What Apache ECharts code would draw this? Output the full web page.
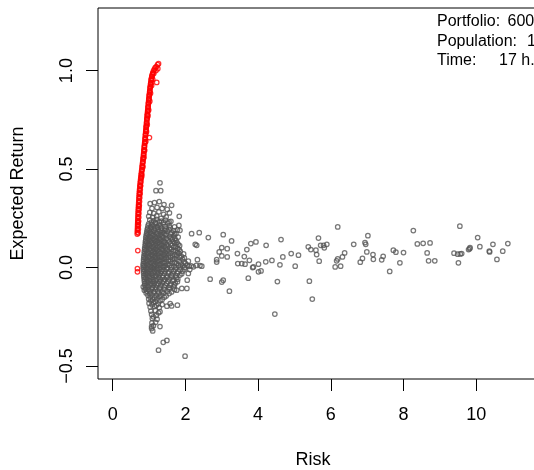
<!DOCTYPE html>
<html>
<head>
<meta charset="utf-8">
<title>Risk / Expected Return</title>
<script src="https://cdn.jsdelivr.net/npm/echarts@6/dist/echarts.min.js"></script>
<style>html,body{margin:0;padding:0;background:#fff;}</style>
</head>
<body>
<div id="chart" style="width:534px;height:470px;"></div>
<script>
// tick labels
var xTicks = [0, 2, 4, 6, 8, 10];
var yTicks = [-0.5, 0, 0.5, 1.0];

// grey cloud: main cluster [risk, expected return]
var cluster = [
  [1.30,0.43],[1.19,0.39],[1.32,0.39],[1.03,0.324],[1.15,0.33],[1.28,0.335],[1.41,0.32],[1.62,0.316],[1.36,0.30],
  [1.08,0.30],[1.22,0.305],[1.50,0.295],[1.02,0.28],[1.13,0.275],[1.27,0.283],[1.40,0.27],[1.56,0.277],
  [0.99,0.26],[1.10,0.255],[1.21,0.262],[1.33,0.25],[1.47,0.257],[1.83,0.26],
  [1.02,0.242],[1.13,0.238],[1.21,0.245],[1.34,0.236],[1.45,0.241],[1.60,0.235],
  [0.99,0.222],[1.08,0.218],[1.18,0.224],[1.27,0.217],[1.39,0.221],[1.52,0.226],[1.82,0.214],
  [0.96,0.199],[1.05,0.203],[1.16,0.197],[1.24,0.204],[1.33,0.2],[1.47,0.196],[1.58,0.202],[1.85,0.189],
  [0.94,0.181],[1.03,0.178],[1.11,0.183],[1.2,0.176],[1.29,0.182],[1.38,0.179],[1.5,0.184],[1.63,0.177],[1.74,0.172],
  [0.92,0.161],[1.0,0.158],[1.09,0.163],[1.17,0.157],[1.26,0.162],[1.35,0.159],[1.44,0.164],[1.56,0.156],[1.68,0.161],[1.8,0.155],
  [0.91,0.139],[0.99,0.142],[1.07,0.137],[1.15,0.141],[1.23,0.138],[1.32,0.143],[1.41,0.136],[1.52,0.14],[1.64,0.144],[1.74,0.137],
  [0.9,0.121],[0.97,0.118],[1.06,0.123],[1.13,0.117],[1.22,0.122],[1.3,0.119],[1.39,0.124],[1.48,0.116],[1.59,0.12],[1.71,0.125],[1.8,0.118],
  [0.88,0.099],[0.96,0.103],[1.04,0.097],[1.12,0.102],[1.2,0.098],[1.29,0.104],[1.37,0.096],[1.46,0.101],[1.57,0.099],[1.68,0.103],[1.79,0.097],
  [0.87,0.081],[0.95,0.077],[1.03,0.083],[1.11,0.078],[1.19,0.082],[1.27,0.079],[1.36,0.084],[1.45,0.076],[1.55,0.08],[1.66,0.083],[1.78,0.077],[1.86,0.082],
  [0.86,0.059],[0.94,0.063],[1.02,0.057],[1.1,0.061],[1.18,0.058],[1.26,0.062],[1.35,0.056],[1.44,0.06],[1.54,0.064],[1.65,0.058],[1.76,0.061],[1.89,0.057],
  [0.85,0.041],[0.93,0.038],[1.01,0.043],[1.09,0.039],[1.17,0.042],[1.25,0.037],[1.34,0.041],[1.43,0.044],[1.53,0.038],[1.64,0.042],[1.77,0.039],[1.92,0.043],
  [0.84,0.019],[0.92,0.022],[1.0,0.018],[1.08,0.021],[1.16,0.017],[1.24,0.023],[1.33,0.019],[1.42,0.021],[1.52,0.018],[1.63,0.022],[1.75,0.02],[1.88,0.017],[2.0,0.021],
  [0.84,0.001],[0.91,-0.002],[0.99,0.003],[1.07,-0.001],[1.15,0.002],[1.23,-0.003],[1.32,0.001],[1.41,0.003],[1.51,-0.002],[1.62,0.002],[1.74,0.0],[1.86,0.004],[1.98,0.002],[2.1,0.006],[2.22,0.004],
  [0.85,-0.019],[0.92,-0.022],[1.0,-0.018],[1.08,-0.021],[1.16,-0.017],[1.25,-0.023],[1.34,-0.02],[1.44,-0.018],[1.55,-0.022],[1.67,-0.019],[1.8,-0.021],[1.93,-0.018],
  [0.86,-0.041],[0.94,-0.038],[1.02,-0.043],[1.1,-0.039],[1.19,-0.042],[1.28,-0.037],[1.38,-0.041],[1.49,-0.044],[1.61,-0.039],[1.74,-0.042],[1.85,-0.038],
  [0.87,-0.059],[0.95,-0.062],[1.04,-0.058],[1.13,-0.061],[1.22,-0.057],[1.32,-0.063],[1.43,-0.06],[1.55,-0.058],[1.68,-0.062],[1.79,-0.059],
  [0.88,-0.081],[0.97,-0.078],[1.06,-0.083],[1.15,-0.079],[1.25,-0.082],[1.36,-0.077],[1.48,-0.081],[1.6,-0.084],[1.72,-0.079],
  [0.84,-0.098],[0.9,-0.101],[0.99,-0.097],[1.09,-0.102],[1.19,-0.099],[1.3,-0.103],[1.42,-0.098],[1.55,-0.101],[1.68,-0.097],
  [0.87,-0.115],[0.94,-0.121],[1.03,-0.118],[1.13,-0.122],[1.24,-0.119],[1.36,-0.123],[1.5,-0.12],[1.62,-0.124],
  [0.97,-0.141],[1.08,-0.138],[1.2,-0.143],[1.33,-0.139],[1.47,-0.144],
  [0.99,-0.16],[1.1,-0.163],[1.22,-0.158],[1.36,-0.162],
  [1.0,-0.181],[1.12,-0.178],[1.25,-0.184],[1.58,-0.183],
  [1.03,-0.201],[1.15,-0.198],[1.28,-0.203],[1.49,-0.196],[1.62,-0.195],[1.78,-0.191],
  [1.05,-0.221],[1.17,-0.218],[1.3,-0.224],
  [1.07,-0.238],[1.2,-0.243],[1.26,-0.23],
  [1.09,-0.259],[1.12,-0.25],[1.22,-0.262],
  [1.08,-0.281],[1.18,-0.278],
  [1.07,-0.30],[1.3,-0.30],[1.12,-0.295],
  [1.07,-0.31],[1.1,-0.322],
  [1.39,-0.38],[1.49,-0.37],[1.26,-0.42],[1.99,-0.45]
];

// grey cloud: the denser middle of the cluster, between the rows above
var clusterCore = [
  [1.07,0.231],[1.17,0.228],[1.28,0.233],[1.40,0.229],[1.55,0.232],
  [0.97,0.211],[1.04,0.208],[1.12,0.213],[1.22,0.207],[1.31,0.212],[1.44,0.209],[1.56,0.211],[1.70,0.206],
  [0.95,0.191],[1.0,0.188],[1.07,0.193],[1.14,0.187],[1.25,0.192],[1.34,0.189],[1.43,0.19],[1.55,0.193],[1.68,0.187],[1.78,0.191],
  [0.93,0.171],[0.97,0.168],[1.06,0.172],[1.14,0.167],[1.23,0.171],[1.32,0.169],[1.41,0.173],[1.47,0.168],[1.6,0.17],[1.7,0.172],
  [0.91,0.151],[0.96,0.148],[1.04,0.152],[1.12,0.147],[1.2,0.151],[1.29,0.149],[1.38,0.153],[1.48,0.148],[1.6,0.15],[1.71,0.147],
  [0.9,0.131],[0.94,0.128],[1.02,0.132],[1.1,0.127],[1.18,0.131],[1.27,0.129],[1.35,0.133],[1.44,0.128],[1.55,0.13],[1.66,0.132],[1.77,0.127],
  [0.89,0.111],[0.93,0.108],[1.01,0.112],[1.09,0.107],[1.17,0.111],[1.25,0.109],[1.34,0.113],[1.42,0.108],[1.52,0.11],[1.63,0.112],[1.74,0.107],[1.84,0.111],
  [0.88,0.091],[0.92,0.088],[1.0,0.092],[1.08,0.087],[1.16,0.091],[1.24,0.089],[1.33,0.093],[1.41,0.088],[1.5,0.09],[1.61,0.092],[1.72,0.087],[1.83,0.091],
  [0.87,0.071],[0.91,0.068],[0.99,0.072],[1.07,0.067],[1.15,0.071],[1.23,0.069],[1.31,0.073],[1.4,0.068],[1.49,0.07],[1.6,0.072],[1.71,0.067],[1.82,0.071],[1.95,0.069],
  [0.86,0.051],[0.9,0.048],[0.98,0.052],[1.06,0.047],[1.14,0.051],[1.22,0.049],[1.3,0.053],[1.39,0.048],[1.48,0.05],[1.59,0.052],[1.7,0.047],[1.84,0.051],[1.97,0.049],
  [0.85,0.031],[0.89,0.028],[0.97,0.032],[1.05,0.027],[1.13,0.031],[1.21,0.029],[1.29,0.033],[1.38,0.028],[1.47,0.03],[1.58,0.032],[1.7,0.027],[1.83,0.031],[1.96,0.029],[2.08,0.032],
  [0.84,0.011],[0.88,0.008],[0.96,0.012],[1.04,0.007],[1.12,0.011],[1.2,0.009],[1.28,0.013],[1.37,0.008],[1.46,0.01],[1.57,0.012],[1.69,0.007],[1.81,0.011],[1.93,0.009],[2.05,0.012],[2.16,0.008],[2.3,0.011],
  [0.84,-0.009],[0.88,-0.012],[0.96,-0.008],[1.04,-0.011],[1.12,-0.007],[1.21,-0.012],[1.29,-0.009],[1.38,-0.011],[1.48,-0.008],[1.6,-0.012],[1.72,-0.009],[1.85,-0.011],[1.98,-0.008],[2.12,-0.01],
  [0.85,-0.029],[0.9,-0.032],[0.98,-0.028],[1.06,-0.031],[1.14,-0.027],[1.23,-0.032],[1.32,-0.029],[1.42,-0.031],[1.53,-0.028],[1.65,-0.032],[1.78,-0.029],[1.9,-0.031],
  [0.86,-0.049],[0.91,-0.052],[1.0,-0.048],[1.08,-0.051],[1.17,-0.047],[1.27,-0.052],[1.37,-0.049],[1.49,-0.051],[1.62,-0.048],[1.75,-0.052],
  [0.87,-0.069],[0.92,-0.072],[1.01,-0.068],[1.1,-0.071],[1.19,-0.067],[1.29,-0.072],[1.4,-0.069],[1.52,-0.071],[1.65,-0.068],[1.78,-0.072],
  [0.88,-0.089],[0.94,-0.092],[1.03,-0.088],[1.12,-0.091],[1.21,-0.087],[1.32,-0.092],[1.45,-0.089],[1.58,-0.091],[1.7,-0.088],
  [0.9,-0.109],[0.98,-0.112],[1.07,-0.108],[1.17,-0.111],[1.28,-0.107],[1.42,-0.112],[1.56,-0.109],[1.7,-0.111],
  [0.92,-0.129],[1.02,-0.132],[1.14,-0.128],[1.27,-0.131],[1.4,-0.129],[1.55,-0.132],
  [1.03,-0.149],[1.15,-0.152],[1.28,-0.148],[1.42,-0.151],
  [1.05,-0.169],[1.17,-0.172],[1.3,-0.168],
  [1.08,-0.189],[1.2,-0.192],[1.36,-0.188]
];

// grey cloud: scattered high-risk portfolios
var scattered = [
  [2.17,0.172],[2.38,0.177],[2.63,0.152],[2.27,0.118],[2.31,0.113],[2.93,0.079],[2.33,0.04],[2.86,0.04],[2.86,0.028],
  [2.40,0.01],[2.45,0.007],[2.08,-0.03],[2.05,-0.064],[2.68,-0.059],[1.76,-0.115],[1.90,-0.106],[2.04,-0.106],
  [3.04,0.167],[3.00,0.101],[3.15,0.096],[3.00,0.059],[3.15,0.054],[3.27,0.135],[3.04,-0.064],[3.00,-0.074],[3.21,-0.120],
  [3.43,0.071],[3.44,0.020],[3.55,0.020],[3.64,0.017],[3.62,0.056],[3.76,0.037],[3.69,0.091],[3.80,0.122],[3.94,0.130],
  [3.85,0.000],[3.87,0.003],[4.01,0.017],[4.01,-0.022],[4.08,-0.017],[4.21,0.029],[4.22,0.113],[4.38,0.036],[3.73,-0.054],
  [4.53,-0.071],[4.46,-0.236],[4.63,0.142],[4.68,0.054],[4.60,0.014],[4.91,0.071],[5.02,0.007],[5.11,0.063],[5.41,-0.069],
  [5.49,-0.160],[5.38,0.105],[5.45,0.091],[5.59,0.088],[5.61,0.066],[5.66,0.150],[5.68,0.032],[5.72,0.113],[5.80,0.113],
  [5.82,0.100],[5.89,0.118],[6.19,0.206],[6.12,0.003],[6.16,0.034],[6.19,0.044],[6.27,0.007],[6.32,0.054],[6.38,0.074],
  [6.63,0.118],[6.81,0.027],[6.87,0.046],[6.94,0.127],[6.96,0.118],[6.99,0.079],[7.02,0.162],[7.16,0.066],[7.17,0.042],
  [7.40,0.039],[7.44,0.057],[7.62,-0.020],[7.72,0.088],[7.79,0.078],[7.90,0.024],[8.00,0.076],[8.27,0.188],[8.38,0.120],
  [8.54,0.123],[8.73,0.125],[8.65,0.074],[8.69,0.034],[8.86,0.034],[9.39,0.073],[9.49,0.068],[9.56,0.069],[9.60,0.071],
  [9.51,0.024],[9.55,0.210],[9.79,0.091],[9.83,0.101],[9.82,0.096],[10.04,0.152],[10.10,0.106],[10.37,0.079],[10.36,0.083],
  [10.46,0.118],[10.57,0.041],[10.73,0.083],[10.87,0.122]
];

// red: efficient frontier
var frontier = [
  [0.675,0.17],[0.678,0.18],[0.68,0.19],[0.683,0.2],[0.685,0.21],[0.686,0.22],[0.689,0.23],[0.69,0.24],[0.693,0.25],
  [0.695,0.26],[0.698,0.27],[0.70,0.28],[0.703,0.29],[0.706,0.30],[0.71,0.31],[0.712,0.32],[0.715,0.33],[0.719,0.34],
  [0.722,0.35],[0.725,0.36],[0.729,0.37],[0.733,0.38],[0.737,0.39],[0.742,0.40],[0.747,0.41],[0.752,0.42],[0.757,0.43],
  [0.763,0.44],[0.77,0.45],[0.776,0.46],[0.782,0.47],[0.789,0.48],[0.795,0.49],[0.802,0.50],[0.808,0.51],[0.815,0.52],
  [0.821,0.53],[0.828,0.54],[0.834,0.55],[0.84,0.56],[0.846,0.57],[0.852,0.58],[0.857,0.59],[0.862,0.60],[0.868,0.61],
  [0.873,0.62],[0.878,0.63],[0.884,0.64],[0.889,0.65],[0.894,0.66],[0.899,0.67],[0.904,0.68],[0.909,0.69],[0.914,0.70],
  [0.919,0.71],[0.924,0.72],[0.929,0.73],[0.934,0.74],[0.939,0.75],[0.944,0.76],[0.949,0.77],[0.954,0.78],[0.959,0.79],
  [0.964,0.80],[0.969,0.81],[0.975,0.82],[0.98,0.83],[0.986,0.84],[0.991,0.85],[0.997,0.86],[1.003,0.87],[1.009,0.88],
  [1.015,0.89],[1.021,0.90],[1.027,0.91],[1.034,0.92],[1.041,0.93],[1.049,0.94],[1.057,0.95],[1.066,0.96],[1.076,0.97],
  [1.09,0.98],[1.105,0.99],[1.125,1.0],[1.15,1.008],[1.17,1.015],[1.2,1.02],[1.235,1.03],[1.26,1.035],
  [0.70,0.23],[0.72,0.31],[0.745,0.375],[0.76,0.415],[0.80,0.465],[0.83,0.51],[0.86,0.56],[0.88,0.595],[0.91,0.64],
  [1.01,0.66],[0.93,0.69],[0.95,0.725],[0.97,0.77],[0.99,0.80],[1.02,0.845],[1.04,0.885],[1.07,0.925],[1.21,0.94],
  [1.1,0.955],[1.13,0.985],[1.19,1.0],[1.24,1.01],
  [0.69,0.086],[0.68,-0.005],[0.68,-0.022]
];

// red: second strand of near-efficient portfolios just right of the first
var frontierEdge = [
  [0.70,0.175],[0.705,0.195],[0.708,0.215],[0.712,0.235],[0.716,0.255],[0.72,0.275],[0.726,0.295],[0.731,0.315],
  [0.737,0.335],[0.743,0.355],[0.75,0.375],[0.758,0.395],[0.767,0.415],[0.776,0.435],[0.786,0.455],[0.797,0.475],
  [0.808,0.495],[0.82,0.515],[0.831,0.535],[0.843,0.555],[0.854,0.575],[0.864,0.595],[0.874,0.615],[0.884,0.635],
  [0.894,0.655],[0.904,0.675],[0.914,0.695],[0.924,0.715],[0.934,0.735],[0.944,0.755],[0.954,0.775],[0.964,0.795],
  [0.974,0.815],[0.985,0.835],[0.996,0.855],[1.008,0.875],[1.02,0.895],[1.032,0.915],[1.046,0.935],[1.062,0.955],
  [1.08,0.972],[1.1,0.985]
];

var infoLabels = ['Portfolio:', 'Population:', 'Time:'];
var infoValues = ['6000', '100', '17 h.'];

var FONT = '"Liberation Sans", Helvetica, Arial, sans-serif';
var chart = echarts.init(document.getElementById('chart'), null, {renderer: 'canvas'});

function minus(v) {
  return v.toFixed(1).replace('-', '\u2212');
}

var infoX = [507.5, 527, 499];
var graphics = [
  {type: 'text', x: 313, y: 460, silent: true,
   style: {text: 'Risk', font: '18px ' + FONT, fill: '#000', align: 'center', verticalAlign: 'middle', textAlign: 'center', textVerticalAlign: 'middle'}},
  {type: 'text', x: 18, y: 193.5, rotation: Math.PI / 2, silent: true,
   style: {text: 'Expected Return', font: '18px ' + FONT, fill: '#000', align: 'center', verticalAlign: 'middle', textAlign: 'center', textVerticalAlign: 'middle'}}
];
infoLabels.forEach(function (lab, i) {
  var y = 22 + i * 19.3;
  graphics.push({type: 'text', x: 437, y: y, silent: true,
    style: {text: lab, font: '16px ' + FONT, fill: '#000', align: 'left', verticalAlign: 'middle', textAlign: 'left', textVerticalAlign: 'middle'}});
  graphics.push({type: 'text', x: infoX[i], y: y, silent: true,
    style: {text: infoValues[i], font: '16px ' + FONT, fill: '#000', align: 'left', verticalAlign: 'middle', textAlign: 'left', textVerticalAlign: 'middle'}});
});

var pointStyle = function (c) {
  return {color: 'rgba(0,0,0,0)', borderColor: c, borderWidth: 1.25};
};

function pointSeries(name, data, colour) {
  return {type: 'scatter', name: name, data: data, symbol: 'circle', symbolSize: 4.5, silent: true,
    itemStyle: pointStyle(colour)};
}

chart.setOption({
  animation: false,
  backgroundColor: '#fff',
  grid: {left: 98, top: 8, width: 460, height: 371, outerBoundsMode: 'none', containLabel: false,
    show: true, borderColor: '#000', borderWidth: 1, backgroundColor: 'transparent'},
  xAxis: {
    type: 'value', min: -0.405, max: 12.25,
    axisLine: {show: false, onZero: false}, splitLine: {show: false},
    axisTick: {show: true, length: 12, customValues: xTicks, lineStyle: {color: '#000'}},
    axisLabel: {customValues: xTicks, fontSize: 18, fontFamily: FONT, color: '#000', margin: 27}
  },
  yAxis: {
    type: 'value', min: -0.566, max: 1.318,
    axisLine: {show: false, onZero: false}, splitLine: {show: false},
    axisTick: {show: true, length: 12, customValues: yTicks, lineStyle: {color: '#000'}},
    axisLabel: {customValues: yTicks, fontSize: 18, fontFamily: FONT, color: '#000', margin: 22, rotate: 90,
      formatter: function (v) { return minus(v); }}
  },
  graphic: graphics,
  series: [
    pointSeries('population', cluster, '#555555'),
    pointSeries('population core', clusterCore, '#555555'),
    pointSeries('scattered', scattered, '#555555'),
    pointSeries('frontier', frontier, '#ff0000'),
    pointSeries('frontier edge', frontierEdge, '#ff0000')
  ]
});
</script>
</body>
</html>
